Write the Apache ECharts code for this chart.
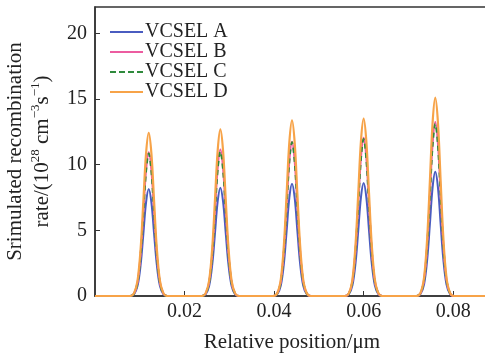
<!DOCTYPE html>
<html>
<head>
<meta charset="utf-8">
<script src="https://cdn.jsdelivr.net/npm/echarts@6/dist/echarts.min.js"></script>
<style>
  html, body { margin: 0; padding: 0; background: #fff; }
  #chart { width: 485px; height: 356px; }
</style>
</head>
<body>
<div id="chart"></div>
<script>
// Sample positions (µm) across the five quantum-well recombination peaks
var positions = [
  0,
  0.0078, 0.0087, 0.0095, 0.0102, 0.0108, 0.0114, 0.0120, 0.0126, 0.0132, 0.0138, 0.0145, 0.0153, 0.0162,
  0.0238, 0.0247, 0.0255, 0.0262, 0.0268, 0.0274, 0.0280, 0.0286, 0.0292, 0.0298, 0.0305, 0.0313, 0.0322,
  0.0398, 0.0407, 0.0415, 0.0422, 0.0428, 0.0434, 0.0440, 0.0446, 0.0452, 0.0458, 0.0465, 0.0473, 0.0482,
  0.0558, 0.0567, 0.0575, 0.0582, 0.0588, 0.0594, 0.0600, 0.0606, 0.0612, 0.0618, 0.0625, 0.0633, 0.0642,
  0.0718, 0.0727, 0.0735, 0.0742, 0.0748, 0.0754, 0.0760, 0.0766, 0.0772, 0.0778, 0.0785, 0.0793, 0.0802,
  0.088
];

// Recombination rate, 10^28 cm^-3 s^-1
var rateA = [
  0,
  0, 0.13, 0.77, 2.40, 4.73, 7.11, 8.15, 7.11, 4.73, 2.40, 0.77, 0.13, 0,
  0, 0.13, 0.78, 2.43, 4.79, 7.20, 8.25, 7.20, 4.79, 2.43, 0.78, 0.13, 0,
  0, 0.14, 0.80, 2.51, 4.96, 7.46, 8.55, 7.46, 4.96, 2.51, 0.80, 0.14, 0,
  0, 0.14, 0.81, 2.53, 4.99, 7.51, 8.60, 7.51, 4.99, 2.53, 0.81, 0.14, 0,
  0, 0.15, 0.89, 2.78, 5.48, 8.25, 9.45, 8.25, 5.48, 2.78, 0.89, 0.15, 0,
  0
];
var rateB = [
  0,
  0, 0.18, 1.03, 3.22, 6.35, 9.56, 10.95, 9.56, 6.35, 3.22, 1.03, 0.18, 0,
  0, 0.18, 1.05, 3.28, 6.47, 9.73, 11.15, 9.73, 6.47, 3.28, 1.05, 0.18, 0,
  0, 0.19, 1.10, 3.45, 6.82, 10.26, 11.75, 10.26, 6.82, 3.45, 1.10, 0.19, 0,
  0, 0.19, 1.13, 3.54, 6.99, 10.52, 12.05, 10.52, 6.99, 3.54, 1.13, 0.19, 0,
  0, 0.21, 1.25, 3.90, 7.69, 11.57, 13.25, 11.57, 7.69, 3.90, 1.25, 0.21, 0,
  0
];
var rateC = [
  0,
  0, 0.17, 1.02, 3.19, 6.29, 9.47, 10.85, 9.47, 6.29, 3.19, 1.02, 0.17, 0,
  0, 0.18, 1.03, 3.23, 6.38, 9.60, 11.00, 9.60, 6.38, 3.23, 1.03, 0.18, 0,
  0, 0.19, 1.10, 3.44, 6.79, 10.21, 11.70, 10.21, 6.79, 3.44, 1.10, 0.19, 0,
  0, 0.19, 1.12, 3.51, 6.93, 10.43, 11.95, 10.43, 6.93, 3.51, 1.12, 0.19, 0,
  0, 0.21, 1.23, 3.85, 7.60, 11.44, 13.10, 11.44, 7.60, 3.85, 1.23, 0.21, 0,
  0
];
var rateD = [
  0,
  0, 0.20, 1.17, 3.65, 7.20, 10.84, 12.42, 10.84, 7.20, 3.65, 1.17, 0.20, 0,
  0, 0.20, 1.19, 3.73, 7.35, 11.07, 12.68, 11.07, 7.35, 3.73, 1.19, 0.20, 0,
  0, 0.21, 1.26, 3.93, 7.76, 11.68, 13.38, 11.68, 7.76, 3.93, 1.26, 0.21, 0,
  0, 0.22, 1.27, 3.97, 7.83, 11.79, 13.50, 11.79, 7.83, 3.97, 1.27, 0.22, 0,
  0, 0.24, 1.42, 4.44, 8.76, 13.18, 15.10, 13.18, 8.76, 4.44, 1.42, 0.24, 0,
  0
];

var seriesNames = ['VCSEL A', 'VCSEL B', 'VCSEL C', 'VCSEL D'];
var seriesColors = ['#4a5cc0', '#ec5ca0', '#2f8a3c', '#f7a348'];
var seriesRates = [rateA, rateB, rateC, rateD];

var FONT = '"Liberation Serif", "Times New Roman", serif';
var INK = '#222';

// Legend glyphs: thin solid bar, or a dashed bar for the dashed series
var SOLID_ICON = 'path://M0,0h33v2h-33z';
var DASH_ICON = 'path://M0,0h6v2h-6z M9,0h6v2h-6z M18,0h6v2h-6z M27,0h6v2h-6z';

function pairs(xs, ys) {
  return xs.map(function (x, i) { return [x, ys[i]]; });
}

var chart = echarts.init(document.getElementById('chart'), null, { renderer: 'canvas' });

chart.setOption({
  animation: false,
  backgroundColor: '#fff',
  grid: {
    left: 95, right: -4, top: 7, bottom: 60,
    outerBoundsMode: 'none', containLabel: false,
    show: true, borderColor: '#333', borderWidth: 1.5, backgroundColor: 'transparent'
  },
  legend: {
    left: 110, top: 22, orient: 'vertical', padding: 0,
    itemWidth: 33, itemHeight: 2, itemGap: 0,
    textStyle: { fontFamily: FONT, fontSize: 20, color: INK, lineHeight: 20, padding: [0, 0, 0, -3] },
    data: seriesNames.map(function (n, i) {
      return { name: n, icon: i === 2 ? DASH_ICON : SOLID_ICON };
    })
  },
  xAxis: {
    type: 'value', min: 0, max: 0.088, interval: 0.02,
    name: 'Relative position/\u03bcm', nameLocation: 'middle', nameGap: 36,
    nameTextStyle: { fontFamily: FONT, fontSize: 21, color: INK },
    axisLine: { show: true, lineStyle: { color: '#333', width: 1.5 } },
    axisTick: { show: true, inside: true, length: 5, lineStyle: { color: '#333' } },
    axisLabel: {
      showMinLabel: false, showMaxLabel: false, margin: 6,
      fontFamily: FONT, fontSize: 20, color: INK,
      formatter: function (v) { return v.toFixed(2); }
    },
    splitLine: { show: false }
  },
  yAxis: {
    type: 'value', min: 0, max: 22, interval: 5,
    name: '{t|Srimulated recombination}\n{t|rate/(10}{s|28}{t| cm}{s|\u22123}{t|s}{s|\u22121}{t|)}',
    nameLocation: 'middle', nameRotate: 90, nameGap: 39,
    nameTextStyle: {
      fontFamily: FONT, color: INK,
      rich: {
        t: { fontFamily: FONT, fontSize: 21, color: INK, lineHeight: 27 },
        s: { fontFamily: FONT, fontSize: 13, color: INK, lineHeight: 27, verticalAlign: 'top', padding: [0, 0, 10, 0] }
      }
    },
    axisLine: { show: true, lineStyle: { color: '#333', width: 1.5 } },
    axisTick: { show: true, inside: true, length: 5, lineStyle: { color: '#333' } },
    axisLabel: { showMaxLabel: false, margin: 8, fontFamily: FONT, fontSize: 20, color: INK },
    splitLine: { show: false }
  },
  series: seriesNames.map(function (name, i) {
    return {
      name: name,
      type: 'line',
      data: pairs(positions, seriesRates[i]),
      showSymbol: false,
      symbol: 'none',
      smooth: 0.35,
      color: seriesColors[i],
      lineStyle: {
        color: seriesColors[i],
        width: i === 3 ? 2.2 : 2,
        type: i === 2 ? [5, 4] : 'solid'
      },
      z: 2 + i
    };
  })
});
</script>
</body>
</html>
